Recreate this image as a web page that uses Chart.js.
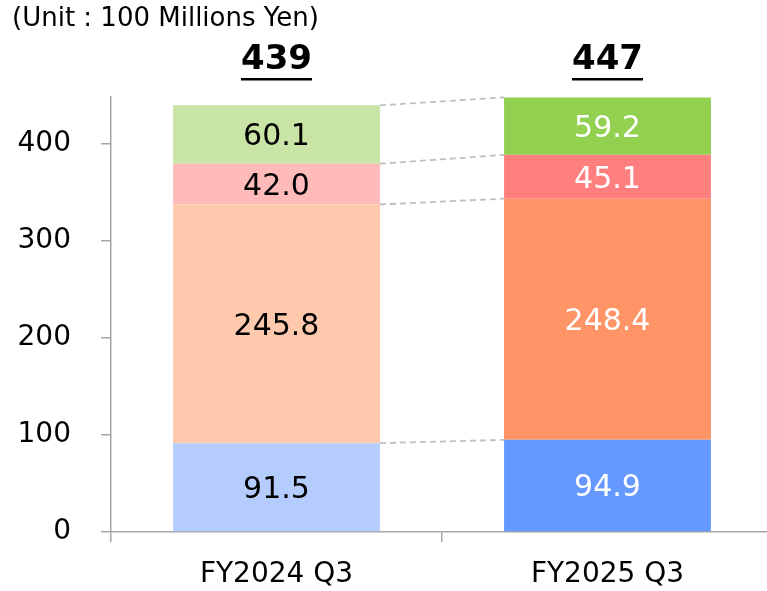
<!DOCTYPE html>
<html lang="en">
<head>
<meta charset="UTF-8">
<title>Sales by Segment</title>
<script src="https://cdn.jsdelivr.net/npm/chart.js"></script>
<style>
    html, body { margin: 0; padding: 0; background: #fff; overflow: hidden; }
    .chart-wrap { width: 767px; height: 591px; overflow: hidden; }
    .chart-box { width: 773px; height: 591px; position: relative; }
</style>
</head>
<body>
<div class="chart-wrap"><div class="chart-box"><canvas id="salesChart"></canvas></div></div>
<script>
// values in 100 millions yen
const periods = ['FY2024 Q3', 'FY2025 Q3'];
const segmentA = [91.5, 94.9];
const segmentB = [245.8, 248.4];
const segmentC = [42.0, 45.1];
const segmentD = [60.1, 59.2];
const totals = ['439', '447'];
const yTicks = [0, 100, 200, 300, 400];
const unitText = '(Unit : 100 Millions Yen)';

const FONT = '"DejaVu Sans", Verdana, sans-serif';
const labelColors = ['#000000', '#ffffff'];

// dashed lines between bars, segment values and totals
const overlay = {
    id: 'overlay',
    afterDatasetsDraw(chart) {
        const ctx = chart.ctx;
        const metas = chart.data.datasets.map((d, i) => chart.getDatasetMeta(i));

        ctx.save();
        ctx.strokeStyle = '#c0c0c0';
        ctx.lineWidth = 1.8;
        ctx.setLineDash([6, 4]);
        metas.forEach(m => {
            const a = m.data[0], b = m.data[1];
            ctx.beginPath();
            ctx.moveTo(a.x + a.width / 2, a.y);
            ctx.lineTo(b.x - b.width / 2, b.y);
            ctx.stroke();
        });
        ctx.setLineDash([]);

        ctx.font = '30px ' + FONT;
        ctx.textAlign = 'center';
        ctx.textBaseline = 'middle';
        metas.forEach((m, di) => {
            m.data.forEach((el, i) => {
                ctx.fillStyle = labelColors[i];
                const v = chart.data.datasets[di].data[i];
                ctx.fillText(v.toFixed(1), el.x, (el.y + el.base) / 2 + 3);
            });
        });

        // totals, bold + underline
        ctx.font = 'bold 34px ' + FONT;
        ctx.fillStyle = '#000';
        ctx.textBaseline = 'alphabetic';
        const top = chart.chartArea.top;
        metas[0].data.forEach((el, i) => {
            const y = top - 28;
            ctx.fillText(totals[i], el.x, y);
            const w = ctx.measureText(totals[i]).width;
            ctx.fillRect(el.x - w / 2, y + 9, w, 2.5);
        });

        ctx.font = '26px ' + FONT;
        ctx.textAlign = 'left';
        ctx.textBaseline = 'middle';
        ctx.fillText(unitText, 12, 19);
        ctx.restore();
    }
};

const ctx = document.getElementById('salesChart').getContext('2d');
const salesChart = new Chart(ctx, {
    type: 'bar',
    data: {
        labels: periods,
        datasets: [
            { label: 'A', data: segmentA, backgroundColor: ['#b4cdfe', '#6699ff'] },
            { label: 'B', data: segmentB, backgroundColor: ['#ffc9ae', '#ff9466'] },
            { label: 'C', data: segmentC, backgroundColor: ['#ffbaba', '#ff7f7f'] },
            { label: 'D', data: segmentD, backgroundColor: ['#c8e5a5', '#92d050'] }
        ]
    },
    options: {
        responsive: true,
        maintainAspectRatio: false,
        animation: false,
        layout: { padding: { top: 97, right: 0, left: 0, bottom: 0 } },
        datasets: { bar: { barPercentage: 0.625, categoryPercentage: 1, borderWidth: 0 } },
        plugins: { legend: { display: false }, tooltip: { enabled: false } },
        scales: {
            x: {
                stacked: true,
                border: { color: '#a6a6a6', width: 1.5 },
                grid: { drawOnChartArea: false, tickLength: 10, color: '#a6a6a6', lineWidth: 1.5 },
                ticks: { color: '#000', font: { family: FONT, size: 28 }, padding: 16 },
                afterFit: s => { s.height = 59; }
            },
            y: {
                stacked: true,
                min: 0,
                max: 448,
                border: { color: '#a6a6a6', width: 1.5 },
                grid: { drawOnChartArea: false, tickLength: 10, color: '#a6a6a6', lineWidth: 1.5 },
                ticks: { color: '#000', font: { family: FONT, size: 28 }, padding: 30 },
                afterBuildTicks: s => { s.ticks = yTicks.map(v => ({ value: v })); },
                afterFit: s => { s.width = 111; }
            }
        }
    },
    plugins: [overlay]
});
</script>
</body>
</html>
